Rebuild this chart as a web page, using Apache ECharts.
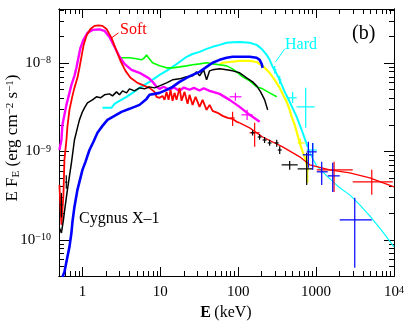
<!DOCTYPE html>
<html><head><meta charset="utf-8">
<script src="https://cdn.jsdelivr.net/npm/echarts@6/dist/echarts.min.js"></script>
<style>html,body{margin:0;padding:0;background:#fff}#c{width:409px;height:322px}</style>
</head><body><div id="c"></div><script>
// ---- axis ranges & ticks ----
const X_MIN = 0.5, X_MAX = 10000, Y_MIN = 3.9e-11, Y_MAX = 4.1e-8;
const xMajor = [1, 10, 100, 1000, 10000];
const xMinor = [0.6,0.7,0.8,0.9, 2,3,4,5,6,7,8,9, 20,30,40,50,60,70,80,90, 200,300,400,500,600,700,800,900, 2000,3000,4000,5000,6000,7000,8000,9000];
const yMajor = [1e-10, 1e-9, 1e-8];
const yMinor = [5e-11,6e-11,7e-11,8e-11,9e-11, 2e-10,3e-10,4e-10,5e-10,6e-10,7e-10,8e-10,9e-10, 2e-9,3e-9,4e-9,5e-9,6e-9,7e-9,8e-9,9e-9, 2e-8,3e-8,4e-8];

// ---- spectra: [E (keV), E F_E (erg cm^-2 s^-1)] ----
const redSoft = [[0.506,4.19e-10],[0.537,1.48e-10],[0.570,3.23e-10],[0.587,8.04e-10],[0.623,1.35e-9],[0.641,1.90e-9],[0.681,2.96e-9],[0.744,4.26e-9],[0.789,5.25e-9],[0.862,6.82e-9],[0.915,8.85e-9],[0.971,1.18e-8],[1.03,1.57e-8],[1.126,2.04e-8],[1.267,2.44e-8],[1.427,2.64e-8],[1.606,2.68e-8],[1.807,2.64e-8],[2.035,2.44e-8],[2.359,1.93e-8],[2.735,1.38e-8],[3.079,1.06e-8],[3.57,8.18e-9],[4.14,6.82e-9],[5.093,5.98e-9],[6.266,5.53e-9],[7.264,5.25e-9],[8.42,4.73e-9],[8.938,4.16e-9],[9.765,4.05e-9],[10.67,4.26e-9],[11.32,3.84e-9],[12.02,4.73e-9],[12.75,3.84e-9],[13.53,4.99e-9],[14.35,3.75e-9],[15.22,4.61e-9],[16.15,3.84e-9],[17.65,5.25e-9],[18.73,3.75e-9],[20.47,4.73e-9],[22.37,3.46e-9],[23.73,4.38e-9],[25.94,3.37e-9],[28.34,4.16e-9],[31.9,3.2e-9],[34.86,3.84e-9],[39.25,2.96e-9],[42.89,3.37e-9],[46.88,2.88e-9],[54.36,2.74e-9],[63.03,2.53e-9],[73.1,2.4e-9],[84.73,2.34e-9],[95.37,2.17e-9],[104.2,2.11e-9]];
const redModel = [[104.2,2.11e-9],[140.1,1.85e-9],[205.9,1.46e-9],[372.2,1.13e-9],[615.4,8.7e-10],[827.6,7.06e-10],[1496,6.2e-10],[2704,5.73e-10],[4886,5.03e-10],[10000,3.98e-10]];
const magenta = [[0.506,1.04e-9],[0.537,1.35e-9],[0.553,2.0e-9],[0.587,2.6e-9],[0.623,3.37e-9],[0.681,4.61e-9],[0.722,5.68e-9],[0.789,7.18e-9],[0.837,8.85e-9],[0.888,1.15e-8],[0.943,1.49e-8],[1.03,1.84e-8],[1.16,2.2e-8],[1.344,2.38e-8],[1.654,2.41e-8],[1.918,2.32e-8],[2.223,1.98e-8],[2.578,1.53e-8],[2.99,1.18e-8],[3.467,9.82e-9],[4.264,8.4e-9],[5.402,7.77e-9],[6.648,7.0e-9],[7.264,6.64e-9],[7.938,6.14e-9],[8.938,5.39e-9],[9.765,5.12e-9],[11.0,5.4e-9],[13.13,5.0e-9],[15.0,5.3e-9],[17.65,4.85e-9],[20.0,5.3e-9],[23.73,5.0e-9],[27.0,5.25e-9],[31.9,4.9e-9],[36.0,5.2e-9],[42.89,4.86e-9],[57.68,4.49e-9],[77.54,3.84e-9],[104.2,3.2e-9],[140.1,2.6e-9],[188.4,2.17e-9]];
const green = [[3.079,1.15e-8],[4.019,1.15e-8],[4.944,1.12e-8],[5.732,1.09e-8],[6.266,1.15e-8],[6.648,1.24e-8],[7.05,1.15e-8],[7.938,1.01e-8],[9.765,9.32e-9],[12.02,8.85e-9],[14.35,8.85e-9],[17.65,9.08e-9],[21.72,9.32e-9],[25.94,9.57e-9],[31.9,9.82e-9],[39.25,1.01e-8],[46.88,9.82e-9],[57.68,9.57e-9],[70.96,9.32e-9],[84.73,8.62e-9],[95.37,7.97e-9],[113.9,7.0e-9],[140.1,6.3e-9],[172.4,5.39e-9],[205.9,5.12e-9],[253.3,4.61e-9],[311.7,4.16e-9]];
const black = [[0.506,1.37e-10],[0.537,1.2e-10],[0.570,1.68e-10],[0.587,2.07e-10],[0.641,3.68e-10],[0.722,7.44e-10],[0.789,1.35e-9],[0.862,1.85e-9],[0.915,2.28e-9],[1.0,2.81e-9],[1.061,3.12e-9],[1.16,3.55e-9],[1.344,3.84e-9],[1.513,4.16e-9],[1.704,4.05e-9],[1.918,4.38e-9],[2.223,4.49e-9],[2.43,4.26e-9],[2.735,4.73e-9],[2.99,4.38e-9],[3.267,4.86e-9],[3.679,4.61e-9],[4.019,5.12e-9],[4.66,4.86e-9],[5.402,5.25e-9],[6.266,5.12e-9],[7.264,5.39e-9],[8.42,5.25e-9],[9.765,5.53e-9],[12.02,5.98e-9],[14.35,6.47e-9],[17.65,6.64e-9],[21.72,7.0e-9],[25.94,7.18e-9],[29.19,7.97e-9],[31.9,7.18e-9],[35.92,8.4e-9],[39.25,6.47e-9],[42.89,8.18e-9],[46.88,8.4e-9],[57.68,8.62e-9],[70.96,8.4e-9],[84.73,8.18e-9],[104.2,7.77e-9],[128.2,6.82e-9],[153.1,6.14e-9],[172.4,5.53e-9],[194,4.73e-9],[218.4,3.84e-9],[238.8,2.96e-9]];
const blue = [[0.553,3.81e-11],[0.587,4.34e-11],[0.623,5.64e-11],[0.681,8.33e-11],[0.722,1.2e-10],[0.744,1.6e-10],[0.789,2.36e-10],[0.862,3.68e-10],[0.915,4.53e-10],[1.0,6.2e-10],[1.093,7.64e-10],[1.23,1.04e-9],[1.385,1.29e-9],[1.559,1.63e-9],[1.807,1.95e-9],[2.096,2.28e-9],[2.578,2.53e-9],[3.172,2.81e-9],[4.019,3.04e-9],[4.66,3.2e-9],[5.402,3.37e-9],[6.648,3.94e-9],[7.264,4.38e-9],[8.42,4.49e-9],[9.765,4.61e-9],[12.02,4.99e-9],[14.35,5.39e-9],[17.65,6.14e-9],[21.72,6.82e-9],[25.94,7.37e-9],[31.9,7.97e-9],[39.25,9.08e-9],[46.88,1.01e-8],[57.68,1.09e-8],[70.96,1.15e-8],[84.73,1.18e-8],[104.2,1.18e-8],[140.1,1.18e-8],[172.4,1.15e-8],[188.4,1.09e-8],[199.9,9.82e-9],[205.9,8.85e-9]];
const yellow = [[57.68,9.57e-9],[63.03,1.01e-8],[77.54,1.03e-8],[104.2,1.06e-8],[140.1,1.06e-8],[172.4,1.03e-8],[205.9,9.32e-9],[253.3,7.77e-9],[293.8,6.47e-9],[340.6,5.25e-9],[383.3,4.26e-9],[419,3.65e-9],[457.9,2.96e-9],[485.8,2.47e-9],[530.8,2.0e-9],[563.2,1.67e-9],[615.4,1.25e-9],[672.9,9.91e-10],[735.3,8.04e-10],[779.8,6.2e-10]];
const cyanHard = [[1.807,3.12e-9],[2.359,3.12e-9],[2.578,3.46e-9],[2.99,3.75e-9],[3.679,4.16e-9],[4.391,4.61e-9],[5.402,5.25e-9],[7.264,6.14e-9],[9.765,7.37e-9],[12.02,8.18e-9],[14.35,9.08e-9],[17.65,1.03e-8],[21.72,1.18e-8],[25.94,1.27e-8],[31.9,1.34e-8],[39.25,1.45e-8],[46.88,1.53e-8],[57.68,1.61e-8],[70.96,1.7e-8],[84.73,1.72e-8],[104.2,1.74e-8],[140.1,1.7e-8],[172.4,1.61e-8],[199.9,1.45e-8],[231.7,1.24e-8],[253.3,1.09e-8],[276.8,9.08e-9],[311.7,7.57e-9],[340.6,6.47e-9],[394.9,4.73e-9],[457.9,3.65e-9],[563.2,2.47e-9],[672.9,1.63e-9],[779.8,1.13e-9]];
const cyanModel = [[779.8,1.13e-9],[877.8,8.7e-10],[1018,6.88e-10],[1369,5.3e-10],[2011,3.88e-10],[2704,3.23e-10],[3635,2.49e-10],[4886,1.87e-10],[7178,1.23e-10],[10000,8.33e-11]];

// ---- error crosses: [E, F, Elow, Ehigh, Flow, Fhigh] ----
const redErr = [[84.7,2.4e-9,80,90,1.95e-9,2.81e-9],[162.5,1.63e-9,140,188,1.13e-9,2.11e-9],[1700,6.2e-10,1018,2954,3.49e-10,7.64e-10],[5184,4.53e-10,2954,9652,3.23e-10,6.2e-10]];
const magentaErr = [[92,4.16e-9,77.5,110,3.75e-9,4.61e-9],[130,2.6e-9,110,153,2.28e-9,2.96e-9]];
const blackErr = [[0.537,2.5e-10,0.52,0.555,1.8e-10,3.4e-10],[0.62,4.5e-10,0.6,0.64,3.8e-10,5.4e-10],[153,1.63e-9,145,162,1.52e-9,1.74e-9],[188,1.46e-9,178,199,1.36e-9,1.57e-9],[218,1.35e-9,206,232,1.25e-9,1.46e-9],[253,1.25e-9,239,268,1.16e-9,1.36e-9],[312,1.25e-9,294,330,1.13e-9,1.36e-9],[341,1.04e-9,322,361,9.4e-10,1.15e-9],[458,7.06e-10,361,580,6.2e-10,7.8e-10],[757,6.36e-10,580,906,4.19e-10,9.65e-10]];
const blueErr = [[795,9.17e-10,673,878,6.53e-10,1.29e-9],[905,9.91e-10,757,1018,6.2e-10,1.25e-9],[1180,5.89e-10,1018,1410,4.19e-10,7.64e-10],[1635,5.3e-10,1410,2011,3.49e-10,7.44e-10],[3134,1.68e-10,2011,5184,4.82e-11,2.99e-10]];
const cyanErr = [[294,8.4e-9,280,310,7.6e-9,9.3e-9],[341,6.47e-9,325,358,5.8e-9,7.2e-9],[500,4.05e-9,431,563,3.55e-9,4.73e-9],[735,3.2e-9,563,959,1.86e-9,5.25e-9],[905,1.04e-9,757,1018,8.7e-10,1.25e-9]];
const yellowErr = [[630,1.25e-9,580,714,1.13e-9,1.4e-9],[780,6.2e-10,757,805,4.4e-10,8.0e-10]];

const FONT = 'Liberation Serif';
const chart = echarts.init(document.getElementById('c'), null, {renderer:'canvas'});

function xLabel(v){ const e = Math.round(Math.log10(v)); return e === 4 ? '{b|10}{s|4}' : '{b|' + Math.pow(10,e) + '}'; }
function yLabel(v){ const e = Math.round(Math.log10(v)); return '{b|10}{s|\u2212' + (-e) + '}'; }
const tickRich = { b:{fontFamily:FONT, fontSize:15, color:'#000'}, s:{fontFamily:FONT, fontSize:10, color:'#000', verticalAlign:'top'} };

function mkX(pos, ticks, len, lab){
  return {type:'log', logBase:10, min:X_MIN, max:X_MAX, position:pos,
    axisLine:{show:true, onZero:false, lineStyle:{color:'#000', width:1}},
    axisTick:{show:true, inside:true, length:len, customValues:ticks, lineStyle:{color:'#000', width:1}},
    minorTick:{show:false}, splitLine:{show:false},
    axisLabel: lab ? {show:true, customValues:xMajor, formatter:xLabel, rich:tickRich, margin:9} : {show:true, customValues:ticks, formatter:function(){return '';}}
  };
}
function mkY(pos, ticks, len, lab){
  return {type:'log', logBase:10, min:Y_MIN, max:Y_MAX, position:pos,
    axisLine:{show:true, onZero:false, lineStyle:{color:'#000', width:1}},
    axisTick:{show:true, inside:true, length:len, customValues:ticks, lineStyle:{color:'#000', width:1}},
    minorTick:{show:false}, splitLine:{show:false},
    axisLabel: lab ? {show:true, customValues:yMajor, formatter:yLabel, rich:tickRich, margin:8} : {show:true, customValues:ticks, formatter:function(){return '';}}
  };
}

function lineSeries(data, color, width, z){
  return {type:'line', data:data, xAxisIndex:0, yAxisIndex:0, showSymbol:false, symbol:'none', smooth:false, clip:true,
    lineStyle:{color:color, width:width}, itemStyle:{color:color}, z:z, silent:true, animation:false};
}
function errSeries(data, color, z){
  return {type:'custom', data:data, xAxisIndex:0, yAxisIndex:0, z:z, silent:true, animation:false, clip:true,
    encode:{x:0, y:1},
    renderItem:function(params, api){
      const xl = api.coord([api.value(2), api.value(1)]);
      const xh = api.coord([api.value(3), api.value(1)]);
      const yl = api.coord([api.value(0), api.value(4)]);
      const yh = api.coord([api.value(0), api.value(5)]);
      return {type:'group', children:[
        {type:'line', shape:{x1:xl[0], y1:xl[1], x2:xh[0], y2:xh[1]}, style:{stroke:color, lineWidth:1.2}},
        {type:'line', shape:{x1:yl[0], y1:yl[1], x2:yh[0], y2:yh[1]}, style:{stroke:color, lineWidth:1.2}}
      ]};
    }};
}

const soft = lineSeries(redSoft, '#ff0000', 1.8, 6);
soft.markLine = {symbol:'none', silent:true, animation:false, label:{show:false}, lineStyle:{color:'#ff0000', width:1, type:'solid'},
  data:[[{coord:[2.36,1.93e-8]},{coord:[2.9,2.2e-8]}]]};
const hard = lineSeries(cyanHard, '#00ffff', 2, 2);
hard.markLine = {symbol:'none', silent:true, animation:false, label:{show:false}, lineStyle:{color:'#00ffff', width:1, type:'solid'},
  data:[[{coord:[301,1.03e-8]},{coord:[395,1.45e-8]}]]};

chart.setOption({
  animation:false,
  backgroundColor:'#fff',
  grid:{left:59, right:15, top:9, bottom:46, containLabel:false, outerBoundsMode:'none'},
  xAxis:[mkX('bottom', xMajor, 9, true), mkX('bottom', xMinor, 5, false), mkX('top', xMajor, 9, false), mkX('top', xMinor, 5, false)],
  yAxis:[mkY('left', yMajor, 10, true), mkY('left', yMinor, 5, false), mkY('right', yMajor, 10, false), mkY('right', yMinor, 5, false)],
  series:[
    lineSeries(yellow, '#ffff00', 2.2, 1),
    errSeries(yellowErr, '#ffff00', 1),
    hard,
    lineSeries(cyanModel, '#00ffff', 1.2, 2),
    errSeries(cyanErr, '#00ffff', 2),
    lineSeries(green, '#00ff00', 1.6, 3),
    lineSeries(magenta, '#ff00ff', 2.4, 4),
    errSeries(magentaErr, '#ff00ff', 4),
    soft,
    lineSeries(redModel, '#ff0000', 1.3, 6),
    errSeries(redErr, '#ff0000', 6),
    lineSeries(black, '#000000', 1.5, 7),
    errSeries(blackErr, '#000000', 7),
    lineSeries(blue, '#0000ff', 2.6, 8),
    errSeries(blueErr, '#0000ff', 8)
  ],
  graphic:[
    {type:'text', left:120, top:22, silent:true, style:{text:'Soft', font:'16px "Liberation Serif"', fill:'#ff0000'}},
    {type:'text', left:285, top:37, silent:true, style:{text:'Hard', font:'16px "Liberation Serif"', fill:'#00ffff'}},
    {type:'text', left:352, top:24, silent:true, style:{text:'(b)', font:'20px "Liberation Serif"', fill:'#000'}},
    {type:'text', left:79, top:211, silent:true, style:{text:'Cygnus X\u20131', font:'16px "Liberation Serif"', fill:'#000'}},
    {type:'text', x:226, y:313, silent:true, style:{text:'{e|E} {n|(keV)}', align:'center', verticalAlign:'middle',
      rich:{e:{fontFamily:FONT, fontSize:16, fontWeight:'bold', fill:'#000'}, n:{fontFamily:FONT, fontSize:16, fill:'#000'}}}},
    {type:'text', x:13, y:138, rotation:Math.PI/2, silent:true, style:{text:'{a|E F}{u|E}{a| (erg cm}{p|\u22122}{a| s}{p|\u22121}{a|)}', align:'center', verticalAlign:'middle',
      rich:{a:{fontFamily:FONT, fontSize:17, fill:'#000'}, u:{fontFamily:FONT, fontSize:11, fill:'#000', verticalAlign:'bottom'}, p:{fontFamily:FONT, fontSize:11, fill:'#000', verticalAlign:'top'}}}}
  ]
});
</script></body></html>
